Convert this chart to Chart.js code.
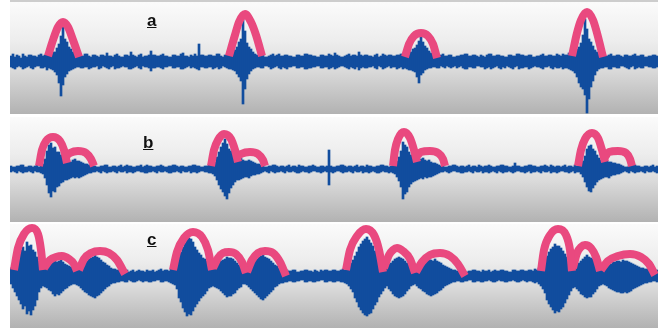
<!DOCTYPE html>
<html>
<head>
<meta charset="utf-8">
<script src="https://cdn.jsdelivr.net/npm/chart.js@4/dist/chart.umd.min.js"></script>
<style>
  html, body { margin: 0; padding: 0; background: #fff; }
  body { position: relative; width: 658px; height: 328px; overflow: hidden; font-family: "Liberation Sans", Arial, sans-serif; }
  canvas { position: absolute; left: 10px; }
  #rule { position: absolute; left: 10px; top: 0; width: 648px; height: 2px; background: #cdcdcd; }
  .lbl { position: absolute; font-weight: bold; font-size: 17px; line-height: 17px; text-decoration: underline; color: #111; }
</style>
</head>
<body>
<div id="rule"></div>
<canvas id="panelA" width="648" height="112" style="top:2px"></canvas>
<canvas id="panelB" width="648" height="105" style="top:117px"></canvas>
<canvas id="panelC" width="648" height="104" style="top:224px"></canvas>
<div class="lbl" style="left:147px;top:12px">a</div>
<div class="lbl" style="left:143px;top:134px">b</div>
<div class="lbl" style="left:147px;top:231px">c</div>

<script>
// Envelope of each recording: one sample every 0.05 s, upper and lower amplitude.
const SAMPLE_STEP = 0.05;
const DURATION = 16.2;

const waveATop = [
  5,7,4,6,5,3,7,5,4,6,6,5,5,4,6,7,5,6,7,5,
  7,9,9,13,17,25,34,22,19,14,12,9,8,6,6,5,5,7,7,5,
  4,6,6,5,4,6,6,5,8,5,5,4,6,7,5,4,4,6,6,5,
  9,6,5,4,6,7,4,5,5,6,10,6,6,5,5,6,7,5,5,4,
  4,6,6,5,5,7,8,5,5,4,6,5,7,5,17,6,6,5,5,6,
  6,5,5,7,7,5,4,6,6,7,8,9,11,14,19,22,42,30,18,14,
  12,9,7,6,5,6,6,4,4,5,6,7,5,6,7,5,5,6,6,5,
  5,4,4,6,6,5,5,7,7,6,6,5,5,4,4,6,6,5,5,7,
  6,5,8,6,5,4,4,5,6,7,5,6,6,5,9,6,5,6,6,5,
  5,4,6,7,4,5,7,6,5,6,6,5,5,6,6,7,7,8,8,10,
  9,12,13,16,20,25,19,15,13,10,8,7,6,5,5,6,7,5,5,6,
  6,4,4,5,5,6,6,7,7,5,5,6,6,5,4,6,5,4,6,7,
  7,5,5,6,6,5,5,4,4,6,6,5,5,7,7,6,6,5,5,6,
  6,4,4,5,5,6,7,5,5,6,6,5,5,7,6,5,7,6,6,8,
  8,9,9,12,14,18,26,42,32,22,19,15,11,9,8,7,6,5,5,6,
  7,5,5,6,6,5,4,6,6,5,5,6,7,5,5,6,6,4,4,5,
  5,6,6,5
];
const waveABottom = [
  -6,-7,-8,-6,-5,-6,-8,-7,-6,-5,-7,-8,-6,-5,-5,-7,-7,-6,-9,-7,
  -8,-9,-11,-14,-22,-35,-24,-16,-13,-10,-9,-8,-7,-6,-6,-7,-7,-6,-6,-8,
  -7,-6,-6,-5,-8,-7,-5,-6,-7,-8,-6,-5,-8,-7,-7,-6,-5,-6,-6,-8,
  -8,-7,-6,-5,-7,-8,-5,-6,-6,-7,-10,-7,-7,-6,-6,-7,-8,-6,-6,-5,
  -5,-7,-7,-6,-6,-8,-8,-7,-6,-5,-7,-6,-7,-8,-9,-6,-6,-7,-7,-6,
  -6,-8,-7,-6,-8,-7,-5,-6,-7,-8,-8,-9,-10,-13,-16,-20,-43,-28,-18,-13,
  -10,-8,-7,-6,-6,-7,-7,-5,-5,-6,-8,-7,-6,-5,-7,-8,-6,-7,-8,-6,
  -6,-5,-5,-7,-7,-6,-6,-8,-8,-7,-7,-6,-6,-5,-5,-7,-7,-6,-6,-8,
  -7,-6,-8,-7,-6,-5,-5,-6,-7,-8,-6,-7,-8,-6,-9,-7,-6,-7,-7,-6,
  -6,-5,-7,-8,-5,-6,-8,-7,-6,-5,-7,-6,-6,-8,-7,-6,-8,-7,-8,-9,
  -9,-10,-11,-16,-22,-14,-12,-9,-8,-7,-7,-6,-6,-7,-7,-5,-6,-7,-5,-6,
  -7,-6,-5,-7,-6,-5,-7,-8,-8,-6,-6,-7,-7,-5,-5,-6,-6,-8,-7,-6,
  -8,-7,-6,-5,-7,-8,-6,-7,-5,-6,-7,-8,-6,-5,-8,-7,-7,-6,-6,-8,
  -7,-6,-5,-6,-6,-7,-8,-6,-6,-5,-7,-8,-6,-7,-7,-6,-8,-7,-7,-8,
  -9,-10,-12,-16,-22,-26,-28,-34,-52,-38,-26,-20,-14,-10,-8,-7,-7,-6,-6,-8,
  -8,-6,-6,-7,-7,-5,-5,-6,-7,-8,-6,-5,-8,-7,-6,-7,-7,-5,-5,-6,
  -6,-7,-7,-6
];

const waveBTop = [
  3,2,2,3,3,4,4,2,2,3,3,2,3,4,2,3,5,10,18,24,
  26,21,22,17,17,14,13,10,9,8,7,9,10,8,8,7,6,5,5,4,
  4,3,3,2,2,3,3,4,4,2,2,3,3,2,3,4,2,3,4,3,
  3,2,2,3,3,4,2,3,4,3,3,2,2,3,3,4,3,2,2,3,
  3,4,4,3,2,3,3,2,2,3,3,4,4,3,3,2,2,3,3,4,
  4,5,7,12,17,22,26,30,25,20,18,15,13,11,10,11,9,8,8,9,
  8,7,6,5,5,4,3,2,2,3,3,4,4,3,2,3,3,2,3,4,
  2,3,3,2,4,3,3,2,2,3,3,4,3,2,2,3,3,2,3,19,
  3,2,2,3,3,4,4,3,2,3,3,2,3,4,2,3,3,2,4,3,
  3,2,2,3,3,4,4,3,3,2,3,4,5,8,12,18,27,24,22,17,
  14,12,11,9,9,10,11,9,8,9,7,6,6,5,4,3,3,2,2,3,
  3,4,4,3,2,3,3,2,3,4,2,3,3,2,4,3,2,3,3,4,
  3,2,2,3,3,4,4,3,3,2,2,3,6,3,3,2,2,3,3,4,
  4,3,3,2,2,3,3,4,3,2,4,3,2,3,3,2,3,4,2,3,
  3,2,4,3,3,5,8,13,20,23,24,20,18,14,11,9,8,9,8,7,
  7,6,6,5,5,4,3,2,2,3,3,4,4,3,3,2,2,3,3,2,
  3,4,2,3
];
const waveBBottom = [
  -3,-2,-3,-4,-2,-3,-4,-3,-3,-2,-3,-4,-2,-3,-3,-4,-5,-9,-16,-24,
  -28,-22,-23,-18,-17,-14,-13,-11,-11,-10,-9,-8,-9,-8,-9,-8,-7,-6,-5,-4,
  -4,-3,-3,-2,-3,-4,-2,-3,-4,-3,-3,-2,-3,-4,-2,-3,-3,-2,-4,-3,
  -3,-4,-3,-2,-2,-3,-3,-4,-4,-3,-3,-2,-3,-4,-2,-3,-3,-2,-3,-4,
  -4,-3,-3,-2,-3,-4,-2,-3,-3,-2,-4,-3,-3,-4,-3,-2,-2,-3,-3,-4,
  -4,-5,-7,-11,-16,-20,-23,-27,-30,-24,-19,-16,-13,-11,-11,-10,-9,-8,-8,-9,
  -7,-6,-6,-5,-5,-4,-3,-2,-3,-4,-2,-3,-4,-3,-3,-2,-3,-4,-2,-3,
  -3,-2,-3,-4,-4,-3,-2,-3,-3,-4,-3,-2,-2,-3,-3,-4,-3,-2,-3,-16,
  -3,-4,-3,-2,-2,-3,-4,-3,-3,-2,-3,-4,-2,-3,-3,-2,-4,-3,-3,-4,
  -3,-2,-3,-4,-4,-3,-2,-3,-3,-4,-3,-4,-5,-8,-12,-18,-30,-25,-23,-18,
  -15,-13,-12,-11,-10,-9,-10,-8,-9,-8,-8,-7,-6,-5,-4,-3,-3,-2,-3,-4,
  -3,-2,-2,-3,-3,-4,-4,-3,-3,-2,-3,-4,-2,-3,-3,-2,-4,-3,-3,-4,
  -3,-2,-3,-4,-2,-3,-4,-3,-3,-2,-3,-4,-3,-2,-2,-3,-3,-4,-3,-2,
  -4,-3,-3,-2,-3,-4,-2,-3,-3,-2,-4,-3,-3,-4,-3,-2,-2,-3,-3,-4,
  -3,-2,-4,-3,-3,-5,-8,-13,-18,-22,-23,-19,-16,-13,-11,-10,-9,-8,-8,-9,
  -7,-6,-6,-5,-5,-4,-3,-2,-3,-4,-2,-3,-4,-3,-3,-2,-3,-4,-2,-3,
  -3,-2,-3,-4
];

const waveCTop = [
  8,12,16,20,22,26,29,25,34,30,31,26,24,19,15,12,10,9,11,12,
  13,15,16,14,15,16,14,12,11,10,9,8,8,9,10,12,13,14,15,17,
  18,19,21,19,18,16,14,13,11,10,8,7,7,6,6,5,5,6,6,4,
  5,6,4,5,6,5,5,4,6,5,5,6,4,5,6,7,5,6,6,5,
  7,8,9,13,20,24,29,33,41,38,37,34,29,26,23,21,18,17,15,12,
  11,10,10,12,13,15,16,17,19,18,18,17,15,13,11,10,8,8,9,11,
  13,14,16,17,19,20,21,19,18,17,15,13,11,10,8,7,7,6,6,5,
  5,6,6,4,4,5,5,6,6,5,5,4,6,5,4,6,5,6,6,5,
  5,6,6,5,5,6,7,6,8,10,13,16,20,24,29,32,35,37,39,36,
  33,30,25,22,19,16,13,11,10,12,13,15,17,18,19,18,17,15,13,12,
  10,9,8,9,11,12,13,15,16,17,16,15,17,15,14,13,11,10,9,8,
  7,6,6,5,5,6,6,4,4,5,5,6,6,5,5,4,6,5,5,6,
  4,5,6,5,5,6,6,5,5,4,4,6,6,5,5,6,6,5,5,6,
  6,5,7,6,8,10,13,16,20,24,27,29,32,30,30,28,25,22,19,16,
  13,11,10,12,13,15,17,19,21,19,18,17,15,13,10,9,8,9,10,11,
  12,14,14,15,15,14,16,15,15,14,13,12,11,10,9,8,8,7,7,6,
  6,5,5,6
];
const waveCBottom = [
  -8,-12,-16,-20,-24,-28,-33,-30,-38,-35,-39,-34,-30,-24,-16,-12,-10,-11,-12,-14,
  -15,-18,-20,-18,-19,-17,-15,-13,-12,-10,-9,-8,-8,-9,-10,-12,-14,-16,-17,-19,
  -20,-21,-22,-20,-19,-17,-15,-13,-11,-10,-8,-7,-7,-6,-6,-5,-5,-6,-6,-4,
  -5,-6,-6,-5,-4,-5,-6,-5,-5,-6,-6,-5,-5,-4,-4,-6,-6,-5,-5,-6,
  -7,-8,-9,-13,-22,-26,-32,-36,-40,-38,-39,-35,-31,-28,-25,-22,-20,-18,-15,-12,
  -11,-10,-11,-12,-13,-15,-17,-19,-21,-20,-20,-18,-17,-14,-12,-11,-8,-8,-9,-11,
  -13,-15,-17,-19,-21,-23,-24,-22,-20,-18,-16,-14,-11,-10,-8,-7,-7,-6,-6,-5,
  -5,-6,-6,-5,-5,-4,-4,-6,-6,-5,-5,-6,-6,-5,-5,-4,-4,-6,-6,-5,
  -5,-6,-6,-5,-5,-6,-6,-7,-8,-10,-13,-16,-22,-26,-31,-34,-37,-39,-40,-38,
  -37,-33,-29,-26,-21,-18,-15,-12,-10,-13,-15,-18,-20,-21,-22,-21,-20,-18,-15,-13,
  -10,-9,-8,-10,-12,-13,-15,-16,-18,-19,-20,-19,-18,-17,-15,-14,-12,-10,-9,-8,
  -7,-6,-6,-5,-5,-6,-6,-5,-5,-4,-4,-6,-6,-5,-5,-6,-6,-5,-5,-4,
  -5,-6,-6,-5,-4,-5,-5,-6,-6,-5,-5,-4,-5,-6,-6,-5,-4,-5,-6,-5,
  -5,-6,-7,-6,-8,-10,-13,-17,-24,-28,-31,-34,-37,-35,-36,-33,-31,-27,-23,-19,
  -15,-12,-11,-13,-15,-18,-19,-21,-22,-21,-21,-18,-16,-13,-10,-9,-8,-9,-10,-12,
  -13,-14,-15,-16,-16,-17,-17,-16,-17,-16,-15,-13,-12,-11,-10,-9,-8,-7,-7,-6,
  -6,-5,-5,-6
];

// Syllable arcs: [time (s), height] along each arch.
const arcsA = [
  [[0.95,5],[1.075,21],[1.2,34],[1.325,39],[1.45,34],[1.575,21],[1.725,4]],
  [[5.475,5],[5.625,26],[5.725,39],[5.875,47],[6.025,39],[6.15,26],[6.3,5]],
  [[9.875,4],[9.975,17],[10.1,25],[10.275,28],[10.45,25],[10.575,17],[10.675,3]],
  [[14.05,5],[14.175,28],[14.275,41],[14.425,49],[14.575,41],[14.675,28],[14.825,4]]
];
const arcsB = [
  [[0.725,3],[0.8,19],[0.9,28],[1.075,32],[1.25,28],[1.35,19],[1.425,6]],
  [[1.375,12],[1.5,16],[1.7,18],[1.9,16],[2.025,10],[2.1,3]],
  [[5.025,3],[5.1,19],[5.2,29],[5.35,35],[5.525,30],[5.625,19],[5.7,7]],
  [[5.675,12],[5.775,15],[6.0,17],[6.2,15],[6.325,9],[6.375,3]],
  [[9.575,3],[9.625,19],[9.7,30],[9.85,37],[10.0,31],[10.1,19],[10.175,7]],
  [[10.175,13],[10.275,17],[10.5,18],[10.7,16],[10.825,10],[10.875,3]],
  [[14.2,3],[14.275,19],[14.375,30],[14.55,36],[14.7,31],[14.8,19],[14.875,7]],
  [[14.875,12],[14.975,17],[15.2,18],[15.4,16],[15.5,10],[15.55,3]]
];
const arcsC = [
  [[0.1,6],[0.2,28],[0.35,42],[0.55,48],[0.7,42],[0.775,26],[0.825,6]],
  [[0.85,8],[1.0,16],[1.15,19],[1.3,20],[1.475,17],[1.6,12],[1.675,5]],
  [[1.725,6],[1.85,17],[2.025,23],[2.25,25],[2.475,23],[2.675,16],[2.875,2]],
  [[4.075,6],[4.175,24],[4.35,38],[4.575,44],[4.8,39],[4.95,26],[5.05,6]],
  [[5.075,8],[5.2,18],[5.325,23],[5.475,24],[5.65,22],[5.8,14],[5.9,3]],
  [[5.925,4],[6.05,16],[6.2,23],[6.375,25],[6.575,23],[6.75,14],[6.9,0]],
  [[8.4,6],[8.5,26],[8.675,40],[8.9,47],[9.1,41],[9.225,26],[9.325,4]],
  [[9.35,8],[9.475,21],[9.575,26],[9.675,28],[9.825,25],[10.0,17],[10.125,3]],
  [[10.15,4],[10.3,14],[10.5,21],[10.75,23],[11.0,20],[11.2,12],[11.375,0]],
  [[13.275,5],[13.35,26],[13.5,41],[13.7,47],[13.9,41],[14.0,26],[14.05,5]],
  [[14.075,8],[14.175,23],[14.275,29],[14.375,31],[14.525,28],[14.65,19],[14.75,5]],
  [[14.775,6],[14.95,15],[15.2,20],[15.5,22],[15.775,19],[15.975,12],[16.125,1]]
];

const WAVE_BLUE = '#114d9e';
const ARC_PINK = '#e9497f';

// Grey studio-style gradient behind each trace.
const panelBackground = {
  id: 'panelBackground',
  beforeDraw(chart) {
    const { ctx, chartArea: a } = chart;
    const g = ctx.createLinearGradient(0, a.top, 0, a.bottom);
    g.addColorStop(0, '#fbfbfb');
    g.addColorStop(0.35, '#ededed');
    g.addColorStop(0.6, '#dbdbdb');
    g.addColorStop(1, '#b2b2b2');
    ctx.save();
    ctx.fillStyle = g;
    ctx.fillRect(a.left, a.top, a.right - a.left, a.bottom - a.top);
    ctx.restore();
  }
};

function envelope(top, bottom) {
  return top.map((hi, i) => ({ x: (i + 0.5) * SAMPLE_STEP, y: [bottom[i], hi] }));
}

function drawPanel(id, top, bottom, arcs, yMin, yMax) {
  const arcSets = arcs.map(pts => ({
    type: 'line',
    data: pts.map(([x, y]) => ({ x, y })),
    borderColor: ARC_PINK,
    borderWidth: 8,
    borderCapStyle: 'butt',
    borderJoinStyle: 'round',
    pointRadius: 0,
    cubicInterpolationMode: 'monotone',
    fill: false,
    order: 0
  }));
  new Chart(document.getElementById(id), {
    type: 'bar',
    data: {
      datasets: [
        ...arcSets,
        {
          type: 'bar',
          data: envelope(top, bottom),
          backgroundColor: WAVE_BLUE,
          borderWidth: 0,
          barPercentage: 1,
          categoryPercentage: 1,
          order: 1
        }
      ]
    },
    options: {
      responsive: false,
      animation: false,
      devicePixelRatio: 1,
      events: [],
      layout: { padding: 0 },
      plugins: { legend: { display: false }, tooltip: { enabled: false } },
      scales: {
        x: { type: 'linear', min: 0, max: DURATION, offset: false, display: false },
        y: { min: yMin, max: yMax, display: false }
      }
    },
    plugins: [panelBackground]
  });
}

drawPanel('panelA', waveATop, waveABottom, arcsA, -53, 59);
drawPanel('panelB', waveBTop, waveBBottom, arcsB, -53, 52);
drawPanel('panelC', waveCTop, waveCBottom, arcsC, -52, 52);
</script>
</body>
</html>
